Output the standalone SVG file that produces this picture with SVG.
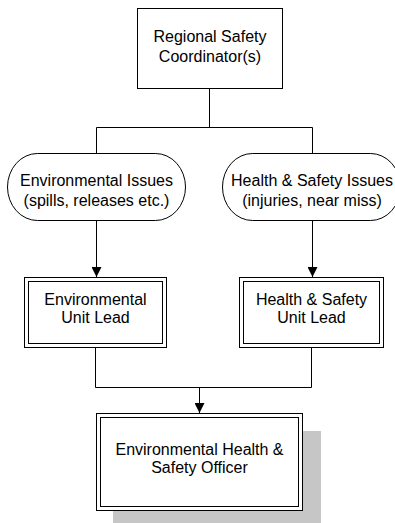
<svg xmlns="http://www.w3.org/2000/svg" width="395" height="523" viewBox="0 0 395 523">
  <defs>
    <style>
      .box { fill: #ffffff; stroke: #000000; stroke-width: 1; }
      .ln { fill: none; stroke: #000000; stroke-width: 1; }
      .t { font-family: "Liberation Sans", Arial, sans-serif; font-size: 16px; fill: #000000; text-anchor: middle; }
      .shadow { fill: #c6c6c6; }
    </style>
    <marker id="arrow" viewBox="0 0 10 10" refX="10" refY="5" markerWidth="10" markerHeight="10" markerUnits="userSpaceOnUse" orient="auto">
      <path d="M0,0 L10,5 L0,10 Z" fill="#000000"/>
    </marker>
  </defs>
  <rect width="395" height="523" fill="#ffffff"/>

  <g id="connectors">
    <path class="ln" d="M209.5,88.5 V127.5"/>
    <path class="ln" d="M96.5,127.5 H312.5"/>
    <path class="ln" d="M96.5,127.5 V153.5"/>
    <path class="ln" d="M312.5,127.5 V153.5"/>
    <path class="ln" d="M96.5,220.5 V277" marker-end="url(#arrow)"/>
    <path class="ln" d="M312.5,220.5 V277" marker-end="url(#arrow)"/>
    <path class="ln" d="M95.5,347.5 V387.5 H311.5 V347.5"/>
    <path class="ln" d="M199.5,387.5 V413" marker-end="url(#arrow)"/>
  </g>

  <g id="coordinator">
    <rect class="box" x="137.5" y="8.5" width="145" height="80"/>
    <text class="t" x="210" y="42">Regional Safety</text>
    <text class="t" x="210" y="62">Coordinator(s)</text>
  </g>

  <g id="env-issues">
    <rect class="box" x="7.5" y="153.5" width="178" height="67" rx="30" ry="33.5"/>
    <text class="t" x="96.5" y="186">Environmental Issues</text>
    <text class="t" x="96.5" y="206">(spills, releases etc.)</text>
  </g>

  <g id="hs-issues">
    <rect class="box" x="222.5" y="153.5" width="178" height="67" rx="30" ry="33.5"/>
    <text class="t" x="312" y="186">Health &amp; Safety Issues</text>
    <text class="t" x="312" y="206">(injuries, near miss)</text>
  </g>

  <g id="env-lead">
    <rect class="box" x="24.5" y="277.5" width="142" height="70"/>
    <rect class="box" x="28.5" y="281.5" width="134" height="62"/>
    <text class="t" x="95.5" y="305">Environmental</text>
    <text class="t" x="95.5" y="323">Unit Lead</text>
  </g>

  <g id="hs-lead">
    <rect class="box" x="239.5" y="277.5" width="144" height="70"/>
    <rect class="box" x="243.5" y="281.5" width="136" height="62"/>
    <text class="t" x="311.5" y="305">Health &amp; Safety</text>
    <text class="t" x="311.5" y="323">Unit Lead</text>
  </g>

  <g id="ehs-officer">
    <rect class="shadow" x="113" y="431" width="208" height="97"/>
    <rect class="box" x="96.5" y="413.5" width="206" height="97"/>
    <rect class="box" x="100.5" y="417.5" width="198" height="89"/>
    <text class="t" x="199.5" y="455">Environmental Health &amp;</text>
    <text class="t" x="199.5" y="473">Safety Officer</text>
  </g>
</svg>
